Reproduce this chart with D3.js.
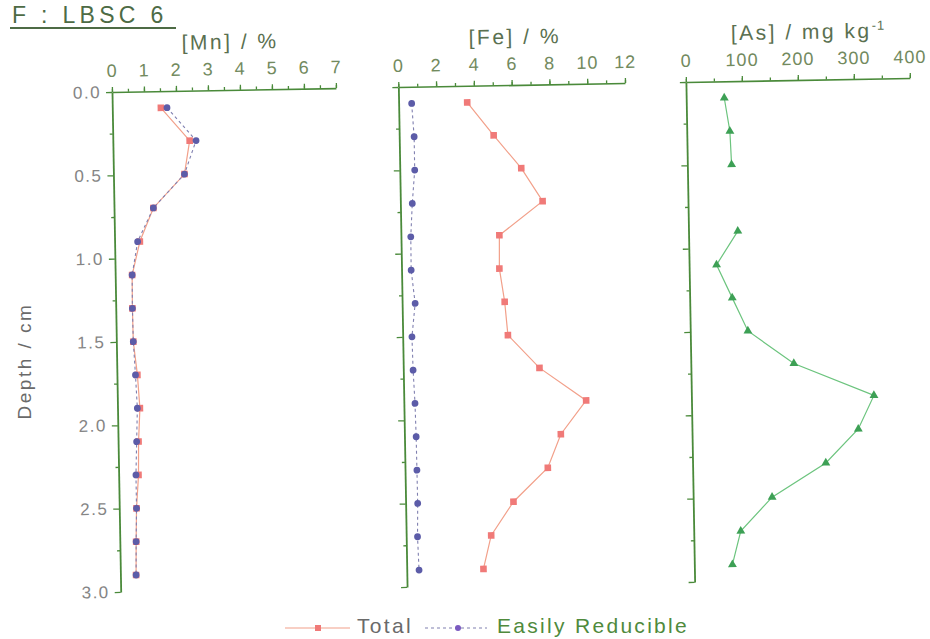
<!DOCTYPE html>
<html><head><meta charset="utf-8">
<script src="https://cdn.jsdelivr.net/npm/d3@7"></script>
<style>body{margin:0;background:#fff} svg{display:block;font-family:"Liberation Sans",Arial,sans-serif}</style>
</head><body>
<svg id="chart" width="930" height="639"></svg>
<script>
// ---- data ----
const depths      = [0.1,0.3,0.5,0.7,0.9,1.1,1.3,1.5,1.7,1.9,2.1,2.3,2.5,2.7,2.9];
const mnTotal     = [1.52,2.40,2.22,1.23,0.79,0.53,0.52,0.53,0.64,0.70,0.64,0.62,0.54,0.51,0.49];
const mnReducible = [1.71,2.60,2.22,1.23,0.72,0.53,0.52,0.53,0.58,0.62,0.58,0.54,0.54,0.51,0.49];
const feTotal     = [3.63,5.00,6.43,7.53,5.21,5.18,5.43,5.57,7.21,9.65,8.28,7.56,5.71,4.50,4.06];
const feReducible = [0.69,0.79,0.79,0.63,0.52,0.51,0.69,0.49,0.52,0.59,0.62,0.63,0.64,0.60,0.65];
const asTotal     = [68,77,79,null,88,49,76,103,184,326,297,238,141,84,68];
const mnTicks = [0,1,2,3,4,5,6,7];
const feTicks = [0,2,4,6,8,10,12];
const asTicks = [0,100,200,300,400];
const depthTicks = [0,0.5,1,1.5,2,2.5,3];
const legendLabels = ["Total","Easily Reducible"];

const svg = d3.select("#chart");
const TOP = 92, BOTTOM = 592;
const y = d3.scaleLinear().domain([0,3]).range([TOP,BOTTOM]);

const AXIS = "#4a8a3a", TICKTXT = "#728a5e", YTXT = "#858585", TITLE = "#5a7050";
const RED = "#f07a78", REDLINE = "#f2a08a", BLUE = "#5c5ca8", BLUELINE = "#8080b0";
const GREEN = "#3da055", GREENLINE = "#6cc47e";

// title
svg.append("text").attr("x",12).attr("y",23).attr("font-size",23).attr("letter-spacing",4.3)
  .attr("fill","#4d6b45").text("F : LBSC 6");
svg.append("line").attr("x1",10).attr("x2",176).attr("y1",28).attr("y2",28)
  .attr("stroke","#4d6b45").attr("stroke-width",2);

// depth label
svg.append("text").attr("transform","translate(31,361) rotate(-90)").attr("text-anchor","middle")
  .attr("font-size",19).attr("letter-spacing",2.5).attr("fill","#6a6a6a").text("Depth / cm");

const g = svg.append("g").attr("transform","rotate(-1,112,93)");

const panels = [
  {left:112, width:224, max:7, ticks:mnTicks, minor:d3.range(0,7.01,0.5), title:"[Mn] / %", dx:7, labelsY:true,
   series:[{vals:mnTotal, kind:"total"},{vals:mnReducible, kind:"red"}]},
  {left:398.4, width:226.7, max:12, ticks:feTicks, minor:d3.range(0,12.01,1), title:"[Fe] / %", dx:4, labelsY:false,
   series:[{vals:feTotal, kind:"total"},{vals:feReducible, kind:"red"}]},
  {left:686, width:224, max:400, ticks:asTicks, minor:d3.range(0,400.1,50), title:"[As] / mg kg", sup:"-1", dx:11, labelsY:false,
   series:[{vals:asTotal, kind:"as"}]}
];

panels.forEach(p => {
  const x = d3.scaleLinear().domain([0,p.max]).range([p.left, p.left+p.width]);
  const pg = g.append("g");
  // minor x ticks
  pg.append("g").attr("transform",`translate(0,${TOP})`)
    .call(d3.axisTop(x).tickValues(p.minor).tickSize(3).tickSizeOuter(0).tickFormat(""))
    .call(a => a.select(".domain").attr("stroke",AXIS).attr("stroke-width",1.6))
    .call(a => a.selectAll(".tick line").attr("stroke",AXIS).attr("stroke-width",1.3));
  // major x ticks
  pg.append("g").attr("transform",`translate(0,${TOP})`)
    .call(d3.axisTop(x).tickValues(p.ticks).tickSize(5).tickSizeOuter(0).tickPadding(10).tickFormat(d3.format("d")))
    .call(a => a.select(".domain").remove())
    .call(a => a.selectAll(".tick line").attr("stroke",AXIS).attr("stroke-width",1.3))
    .call(a => a.selectAll(".tick text").attr("fill",TICKTXT).attr("font-size",18)
       .attr("font-family","'Liberation Sans',Arial,sans-serif").attr("letter-spacing",1));
  // y minor
  pg.append("g").attr("transform",`translate(${p.left},0)`)
    .call(d3.axisLeft(y).tickValues(d3.range(0.25,3,0.5)).tickSize(3).tickSizeOuter(0).tickFormat(""))
    .call(a => a.select(".domain").attr("stroke",AXIS).attr("stroke-width",1.8))
    .call(a => a.selectAll(".tick line").attr("stroke",AXIS).attr("stroke-width",1.3));
  // y major
  pg.append("g").attr("transform",`translate(${p.left},0)`)
    .call(d3.axisLeft(y).tickValues(depthTicks).tickSize(6).tickPadding(5)
      .tickFormat(p.labelsY ? d3.format(".1f") : ""))
    .call(a => a.select(".domain").remove())
    .call(a => a.selectAll(".tick line").attr("stroke",AXIS).attr("stroke-width",1.3))
    .call(a => a.selectAll(".tick text").attr("fill",YTXT).attr("font-size",17)
       .attr("font-family","'Liberation Sans',Arial,sans-serif").attr("letter-spacing",1.5));
  // title
  const t = pg.append("text").attr("x",p.left+p.width/2 + p.dx).attr("y",51).attr("text-anchor","middle")
    .attr("font-size",21).attr("letter-spacing",2.5).attr("fill",TITLE).text(p.title);
  if (p.sup) t.append("tspan").attr("dy",-8).attr("font-size",13).attr("letter-spacing",1).text(p.sup);

  p.series.forEach(s => {
    const pts = depths.map((d,i) => ({d, v:s.vals[i]}));
    const line = d3.line().defined(q => q.v != null).x(q => x(q.v)).y(q => y(q.d));
    const lg = pg.append("g");
    if (s.kind === "total") {
      lg.append("path").attr("d",line(pts)).attr("fill","none").attr("stroke",REDLINE).attr("stroke-width",1.2);
      lg.selectAll("rect").data(pts.filter(q=>q.v!=null)).join("rect")
        .attr("x",q=>x(q.v)-3.3).attr("y",q=>y(q.d)-3.3).attr("width",6.6).attr("height",6.6).attr("fill",RED);
    } else if (s.kind === "red") {
      lg.append("path").attr("d",line(pts)).attr("fill","none").attr("stroke",BLUELINE)
        .attr("stroke-width",1.1).attr("stroke-dasharray","3,3");
      lg.selectAll("circle").data(pts.filter(q=>q.v!=null)).join("circle")
        .attr("cx",q=>x(q.v)).attr("cy",q=>y(q.d)).attr("r",3.4).attr("fill",BLUE);
    } else {
      lg.append("path").attr("d",line(pts)).attr("fill","none").attr("stroke",GREENLINE).attr("stroke-width",1.2);
      lg.selectAll("path.m").data(pts.filter(q=>q.v!=null)).join("path").attr("class","m")
        .attr("d",d3.symbol(d3.symbolTriangle,34)())
        .attr("transform",q=>`translate(${x(q.v)},${y(q.d)})`).attr("fill",GREEN);
    }
  });
});

// legend
const lgd = svg.append("g");
lgd.append("line").attr("x1",285).attr("x2",350).attr("y1",628).attr("y2",628).attr("stroke",REDLINE).attr("stroke-width",1.2);
lgd.append("rect").attr("x",315).attr("y",625).attr("width",6).attr("height",6).attr("fill",RED);
lgd.append("text").attr("x",357).attr("y",633).attr("font-size",21).attr("letter-spacing",2.3).attr("fill","#6a6a6a").text(legendLabels[0]);
lgd.append("line").attr("x1",425).attr("x2",487).attr("y1",628).attr("y2",628).attr("stroke",BLUELINE)
  .attr("stroke-width",1.1).attr("stroke-dasharray","3,3");
lgd.append("circle").attr("cx",458).attr("cy",628).attr("r",3).attr("fill","#7a5ac0");
lgd.append("text").attr("x",497).attr("y",633).attr("font-size",21).attr("letter-spacing",2.3).attr("fill","#4f8a3c").text(legendLabels[1]);
</script>
</body></html>
